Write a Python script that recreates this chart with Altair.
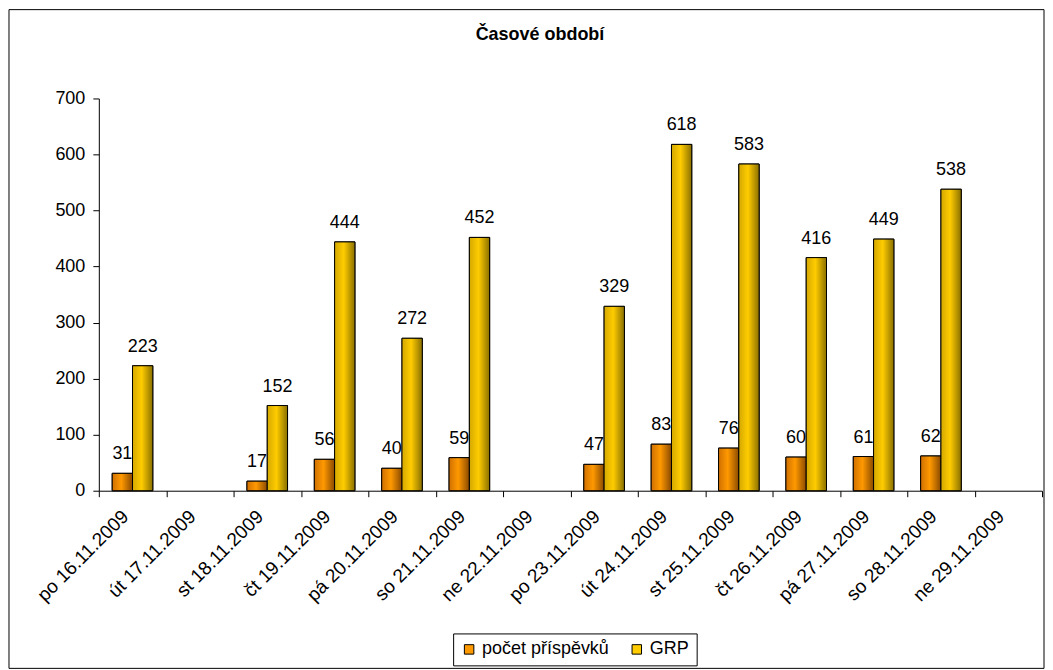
import altair as alt
import pandas as pd

# ---- data ----
days = ["po 16.11.2009", "út 17.11.2009", "st 18.11.2009", "čt 19.11.2009",
        "pá 20.11.2009", "so 21.11.2009", "ne 22.11.2009", "po 23.11.2009",
        "út 24.11.2009", "st 25.11.2009", "čt 26.11.2009", "pá 27.11.2009",
        "so 28.11.2009", "ne 29.11.2009"]
pocet = [31, None, 17, 56, 40, 59, None, 47, 83, 76, 60, 61, 62, None]
grp = [223, None, 152, 444, 272, 452, None, 329, 618, 583, 416, 449, 538, None]
series = ["počet příspěvků", "GRP"]
colors = ["#FF9900", "#FFCC00"]
y_ticks = [0, 100, 200, 300, 400, 500, 600, 700]
title_text = "Časové období"

rows = []
for d, a, b in zip(days, pocet, grp):
    rows.append({"den": d, "serie": series[0], "hodnota": a})
    rows.append({"den": d, "serie": series[1], "hodnota": b})
df = pd.DataFrame(rows)

W, H = 945, 393
FONT = "Liberation Sans"

grad = {
    series[0]: alt.Gradient(gradient="linear", x1=0, x2=1, y1=0, y2=0, stops=[
        alt.GradientStop(offset=0, color="#D07000"),
        alt.GradientStop(offset=0.45, color="#FF9900"),
        alt.GradientStop(offset=1, color="#8A4A00")]),
    series[1]: alt.Gradient(gradient="linear", x1=0, x2=1, y1=0, y2=0, stops=[
        alt.GradientStop(offset=0, color="#D4A800"),
        alt.GradientStop(offset=0.45, color="#FFCC00"),
        alt.GradientStop(offset=1, color="#8A7000")]),
}

x = alt.X("den:N", sort=days,
          scale=alt.Scale(domain=days, paddingInner=0, paddingOuter=0),
          axis=alt.Axis(title=None, labelAngle=-45, tickBand="extent",
                        labelFontSize=19, labelFont=FONT, labelColor="black",
                        domainColor="black", tickColor="black", tickSize=6,
                        labelPadding=10, labelOffset=-14))
xo = alt.XOffset("serie:N", sort=series,
                 scale=alt.Scale(domain=series, paddingInner=0, paddingOuter=0.66))
y = alt.Y("hodnota:Q", scale=alt.Scale(domain=[0, 700], nice=False),
          axis=alt.Axis(title=None, values=y_ticks, grid=False, labelFontSize=18,
                        labelFont=FONT, labelColor="black", domainColor="black",
                        tickColor="black", tickSize=6, labelPadding=8))

base = alt.Chart(df)

bars_legend = base.mark_bar(stroke="black", strokeWidth=1).encode(
    x=x, xOffset=xo, y=y,
    color=alt.Color("serie:N", sort=series,
                    scale=alt.Scale(domain=series, range=colors),
                    legend=alt.Legend(title=None, orient="none", legendX=355, legendY=536,
                                      direction="horizontal", symbolType="square",
                                      symbolSize=90, symbolStrokeColor="black",
                                      symbolStrokeWidth=1, labelFontSize=18,
                                      labelFont=FONT, labelColor="black",
                                      strokeColor="black", fillColor="white",
                                      padding=7, columnPadding=18, labelLimit=0)))

grad_layers = [
    base.transform_filter(alt.datum.serie == s)
        .mark_bar(fill=grad[s], stroke="black", strokeWidth=1)
        .encode(x=x, xOffset=xo, y=y)
    for s in series
]

labels = base.mark_text(baseline="bottom", dy=-10, fontSize=18, font=FONT,
                        color="black").encode(
    x=x, xOffset=xo, y=y, text=alt.Text("hodnota:Q", format="d"))

one = alt.Data(values=[{}])
border = alt.Chart(one).mark_rect(fillOpacity=0, stroke="black", strokeWidth=1).encode(
    x=alt.value(-90), x2=alt.value(W + 2), y=alt.value(-89), y2=alt.value(571))
title = alt.Chart(one).mark_text(text=title_text, fontWeight="bold", fontSize=18,
                                 font=FONT, color="black").encode(
    x=alt.value(442), y=alt.value(-64))

chart = alt.layer(border, bars_legend, *grad_layers, labels, title).properties(
    width=W, height=H, padding=0
).configure_view(stroke=None)

chart.save("out.html", embed_options={"renderer": "svg", "actions": False})
